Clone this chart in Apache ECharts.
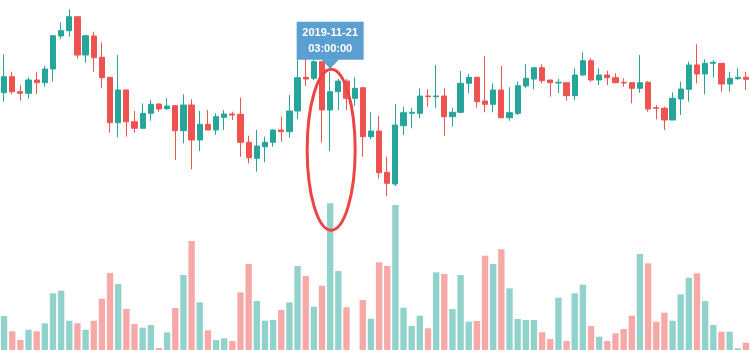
<!DOCTYPE html>
<html>
<head>
<meta charset="utf-8">
<script src="https://cdn.jsdelivr.net/npm/echarts@6/dist/echarts.min.js"></script>
<style>html,body{margin:0;padding:0;background:#fff}#c{width:750px;height:350px}</style>
</head>
<body>
<div id="c"></div>
<script>
// Hourly candles (categories)
const startTime = Date.UTC(2019, 10, 19, 11, 0, 0);
const categories = [];
for (let i = 0; i < 92; i++) {
  const d = new Date(startTime + i * 3600000);
  const p = n => String(n).padStart(2, '0');
  categories.push(d.getUTCFullYear() + '-' + p(d.getUTCMonth() + 1) + '-' + p(d.getUTCDate()) + ' ' + p(d.getUTCHours()) + ':00:00');
}

const opens = [107.3,123.3,108.3,106.7,120,117.3,131,164,169.3,183.3,145,164,142.7,122.7,77.3,110,78.3,71.7,86.7,96,
  91.3,94.3,69.3,95,60,75.7,70,82.7,86,85.7,57.7,41.7,53.3,57.7,70,68.3,89,122.7,121.7,138.3,
  90,108.3,119,101.7,112.3,63.3,69,27.7,16,74.3,86.7,86.7,104,103.3,104,83.3,87.7,116.7,122.7,99,
  95.7,110,82.3,86.7,114,121,132.3,120,117,117.3,104.3,125,139.3,120,125,122.3,117.7,117.3,111.7,117.7,
  92.3,91.7,80,101,110.7,135,126,136.7,136.7,116,121.3,122.7];
const closes = [123.3,108.3,106.7,120,117.3,131,164.3,169.3,183.3,145,164.3,142.3,122.3,77.3,110,78.3,71.7,86.7,95.7,91,
  94,69.3,95,60,75.7,70,83.3,86,85,57.7,42.3,54,57.7,70,68.3,89,122.3,121,138.3,90,
  108.3,119,101.7,111.7,63.3,69,27.3,16.7,75,87.3,87.7,104,103.3,104,83.3,87.7,116.7,122.7,98.3,95.7,
  110,82.3,87.3,114.3,121.7,132.3,119.3,117.3,117.7,104.3,125,139.3,120,125,122.3,117.3,117,111.7,117.3,91,
  91.7,80,101.7,111,135,126,136.7,137.7,116,121.7,122.7,120.7];
const lows = [98.3,105.7,99.3,101.7,106,113.3,118.3,160.7,163.3,141.7,137.3,128.3,111.7,67.3,62.7,63.3,67.3,71.7,79.3,88.3,
  90,40,56.7,30.7,49,70,65,70,80,43.3,36.7,28.3,37.7,53.3,58.3,62.3,81,114,120,57.7,
  49,90,90,94,43.3,60.7,21.7,4,14,65,71.7,81.7,93.3,91.7,64,73.3,86.7,106.7,92.3,87.7,
  87.7,81.7,79.3,85,111.7,110.7,116.7,103.3,107,99.3,100,124,118.3,115,115,116.7,113.3,96.7,107.3,88.3,
  80.7,70,80,85,98.3,116.7,105.7,122.3,108.3,108.3,120,110];
const highs = [145.7,128.3,115,122.7,128.3,134,165,177.7,190.7,183.3,164.3,168.3,157.7,122.7,145,110.7,89,96.7,100,96.7,
  101.7,94.3,105.7,100.7,89,90,86.7,90,88.3,102.3,64.3,70,63.3,70.7,83.3,105,140.7,141,145,138.3,
  128.3,121,121,122.7,112.3,87.7,84,43.3,96,93.3,92.3,111.7,110.7,135,111.7,92.3,129,126,122.7,144,
  116.7,134,112.7,118.3,136,132.3,135.7,120,121,117.3,131.7,147.7,141.7,131.7,129.3,126.7,121.7,117.3,145,119,
  95,93.3,107.7,118.3,138.3,155.7,140.7,140,136.7,128.3,131.7,128.3];
const volumes = [34,18.7,10,20.3,18.7,26.7,56.7,59.3,29.3,26.7,20.3,29.3,51.3,77,66,41,26,22.3,25,2,
  17.7,42,75,109,47.7,19.7,10,11.7,9,57.7,86,49,29.3,30,40,47.7,84,74,43.3,64.3,
  146.7,79,42.7,0,50,31.3,87.7,84,145,42.3,24,34.3,21.7,77.7,76,41,75,28.3,29,94.3,
  86,100.7,61.7,31,30,30,17.7,11,52.3,9,56.7,65.3,24,13.3,9,16.7,21,34.3,96,86.7,
  28.3,37.3,29.3,55.7,72.3,76.7,49,25,18.3,18.3,1.7,7.3];
const markIndex = 40;
const markLabel = '2019-11-21\n03:00:00';

const UP = '#26a69a', DOWN = '#ef5350';
const UP_V = 'rgba(38,166,154,0.5)', DOWN_V = 'rgba(239,83,80,0.5)';

const candleData = opens.map((o, i) => [o, closes[i], lows[i], highs[i]]);
const volumeData = volumes.map((v, i) => ({
  value: v,
  itemStyle: { color: closes[i] >= opens[i] ? UP_V : DOWN_V }
}));

const chart = echarts.init(document.getElementById('c'), null, { renderer: 'canvas' });
chart.setOption({
  animation: false,
  backgroundColor: '#fff',
  grid: [
    { left: 0, right: 0, top: 0, height: 200 },
    { left: 0, right: 0, bottom: 0, height: 200 }
  ],
  xAxis: [
    { type: 'category', data: categories, gridIndex: 0, show: false, boundaryGap: true },
    { type: 'category', data: categories, gridIndex: 1, show: false, boundaryGap: true }
  ],
  yAxis: [
    { type: 'value', gridIndex: 0, min: 0, max: 200, show: false },
    { type: 'value', gridIndex: 1, min: 0, max: 200, show: false }
  ],
  series: [
    {
      type: 'bar', xAxisIndex: 1, yAxisIndex: 1, data: volumeData,
      barWidth: '78%', z: 1
    },
    {
      type: 'candlestick', xAxisIndex: 0, yAxisIndex: 0, data: candleData,
      barWidth: '70%', z: 2,
      itemStyle: { color: UP, color0: DOWN, borderColor: UP, borderColor0: DOWN, borderWidth: 1 }
    }
  ]
});

const pt = chart.convertToPixel({ xAxisIndex: 0, yAxisIndex: 0 }, [markIndex, highs[markIndex]]);
const cx = pt[0];
const tipY = pt[1] - 3;
const boxW = 67, boxH = 38, arrowH = 9, arrowHalf = 9;
const boxTop = tipY - arrowH - boxH;
chart.setOption({
  graphic: [
    {
      type: 'ellipse', z: 100,
      shape: { cx: cx + 1, cy: tipY + 81, rx: 24, ry: 80.5 },
      style: { fill: 'none', stroke: '#ee4444', lineWidth: 3 }
    },
    {
      type: 'rect', z: 101,
      shape: { x: cx - boxW / 2, y: boxTop, width: boxW, height: boxH },
      style: { fill: '#5a9fcf' }
    },
    {
      type: 'polygon', z: 101,
      shape: { points: [[cx - arrowHalf, boxTop + boxH - 0.5], [cx + arrowHalf, boxTop + boxH - 0.5], [cx, tipY]] },
      style: { fill: '#5a9fcf' }
    },
    {
      type: 'text', z: 102,
      x: cx, y: boxTop + boxH / 2,
      style: {
        text: markLabel, fill: '#fff', font: 'bold 11px "Liberation Sans", Arial, sans-serif',
        align: 'center', verticalAlign: 'middle', lineHeight: 16
      }
    }
  ]
});
</script>
</body>
</html>
